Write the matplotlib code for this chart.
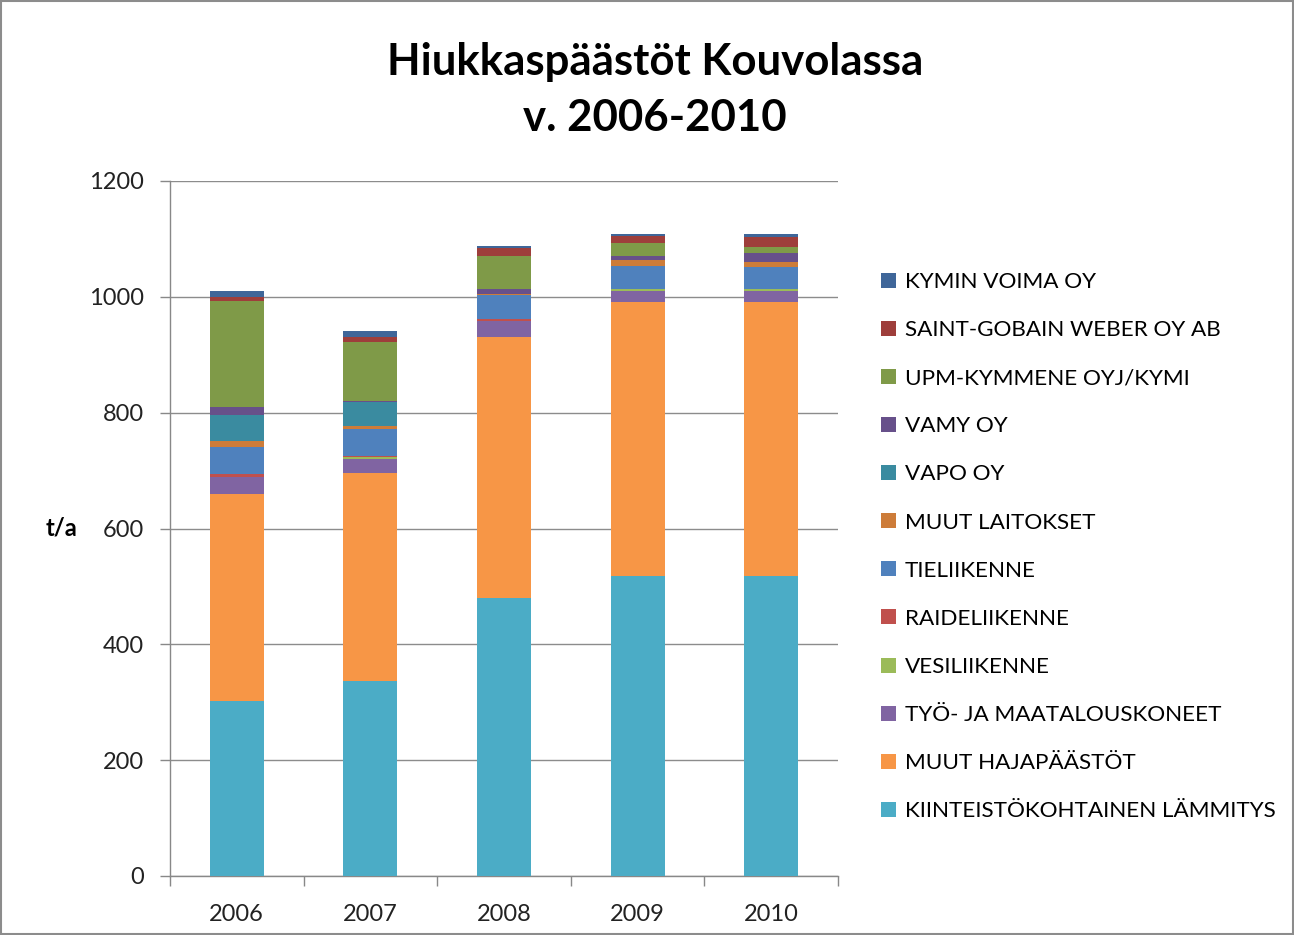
import matplotlib
matplotlib.use("Agg")
import matplotlib.pyplot as plt
import numpy as np

plt.rcParams['font.family'] = ['Lato', 'DejaVu Sans']

years = ["2006", "2007", "2008", "2009", "2010"]
series_names = [
    "KIINTEISTÖKOHTAINEN LÄMMITYS",
    "MUUT HAJAPÄÄSTÖT",
    "TYÖ- JA MAATALOUSKONEET",
    "VESILIIKENNE",
    "RAIDELIIKENNE",
    "TIELIIKENNE",
    "MUUT LAITOKSET",
    "VAPO OY",
    "VAMY OY",
    "UPM-KYMMENE OYJ/KYMI",
    "SAINT-GOBAIN WEBER OY AB",
    "KYMIN VOIMA OY",
]
kiinteisto = [302, 337, 480, 518, 518]
muut_haja = [357, 358, 451, 472.5, 472.5]
tyo_maatalous = [30, 25, 27, 19.5, 19.5]
vesiliikenne = [0.5, 3, 0.5, 3.5, 3.5]
raideliikenne = [5, 2.5, 3.5, 0.5, 0.5]
tieliikenne = [46, 47, 41, 39.5, 36.8]
muut_laitokset = [11, 4.6, 2.5, 10.6, 8.7]
vapo = [45, 41, 0, 0, 0]
vamy = [12.5, 2.3, 8, 7, 15.5]
upm = [184, 101, 57.5, 22, 11.5]
saint_gobain = [6, 8.6, 13, 11.6, 16.6]
kymin_voima = [11.6, 11, 4.4, 4, 5.4]

series_values = [kiinteisto, muut_haja, tyo_maatalous, vesiliikenne, raideliikenne,
                 tieliikenne, muut_laitokset, vapo, vamy, upm, saint_gobain, kymin_voima]
colors = ["#4BACC6", "#F79646", "#8064A2", "#9BBB59", "#C0504D", "#4F81BD",
          "#CD7C39", "#3A8BA0", "#67508A", "#7F9A48", "#9E3E3B", "#3F6699"]

fig = plt.figure(figsize=(12.94, 9.35), dpi=100)
ax = fig.add_axes([170/1294, 1-876/935, (838-170)/1294, (876-181)/935])

x = np.arange(len(years))
bottom = np.zeros(len(years))
handles = []
for name, vals, c in zip(series_names, series_values, colors):
    v = np.array(vals, dtype=float)
    b = ax.bar(x, v, 0.405, bottom=bottom, color=c, label=name, edgecolor='none', zorder=3)
    handles.append(b)
    bottom += v

ax.set_xlim(-0.5, len(years) - 0.5)
ax.set_ylim(0, 1200)
ax.set_yticks(range(0, 1201, 200))
ax.set_xticks(x)
ax.set_xticklabels(years)
ax.set_xticks(np.arange(-0.5, len(years), 1), minor=True)
ax.tick_params(axis='x', which='major', length=0, pad=20, labelsize=17, colors='#222222')
ax.tick_params(axis='x', which='minor', length=7, width=1, color='#888888', direction='out')
ax.tick_params(axis='y', length=7, width=1, color='#888888', direction='out', pad=12,
               labelsize=17, labelcolor='#222222')
ax.grid(axis='y', color='#8c8c8c', linewidth=1, zorder=0)
for s in ['top', 'right']:
    ax.spines[s].set_visible(False)
for s in ['left', 'bottom']:
    ax.spines[s].set_color('#888888')
    ax.spines[s].set_linewidth(1)

fig.text(62/1294, 1-528/935, "t/a", fontsize=17, fontweight='bold', ha='center', va='center')
fig.text(655/1294, 1-90/935, "Hiukkaspäästöt Kouvolassa\nv. 2006-2010", fontsize=31.5,
         fontweight='bold', ha='center', va='center', linespacing=1.5)

leg = fig.legend(handles[::-1], series_names[::-1], loc='upper left',
                 bbox_to_anchor=(872/1294, 1-263/935), frameon=False, fontsize=16.2,
                 handlelength=0.65, handleheight=0.65, handletextpad=0.4,
                 labelspacing=1.25, borderaxespad=0)

# outer border
fig.patches.append(plt.Rectangle((0.001, 0.001), 0.998, 0.998, transform=fig.transFigure,
                                 fill=False, edgecolor='#8c8c8c', linewidth=1.5))

fig.savefig("out.png", dpi=100)
